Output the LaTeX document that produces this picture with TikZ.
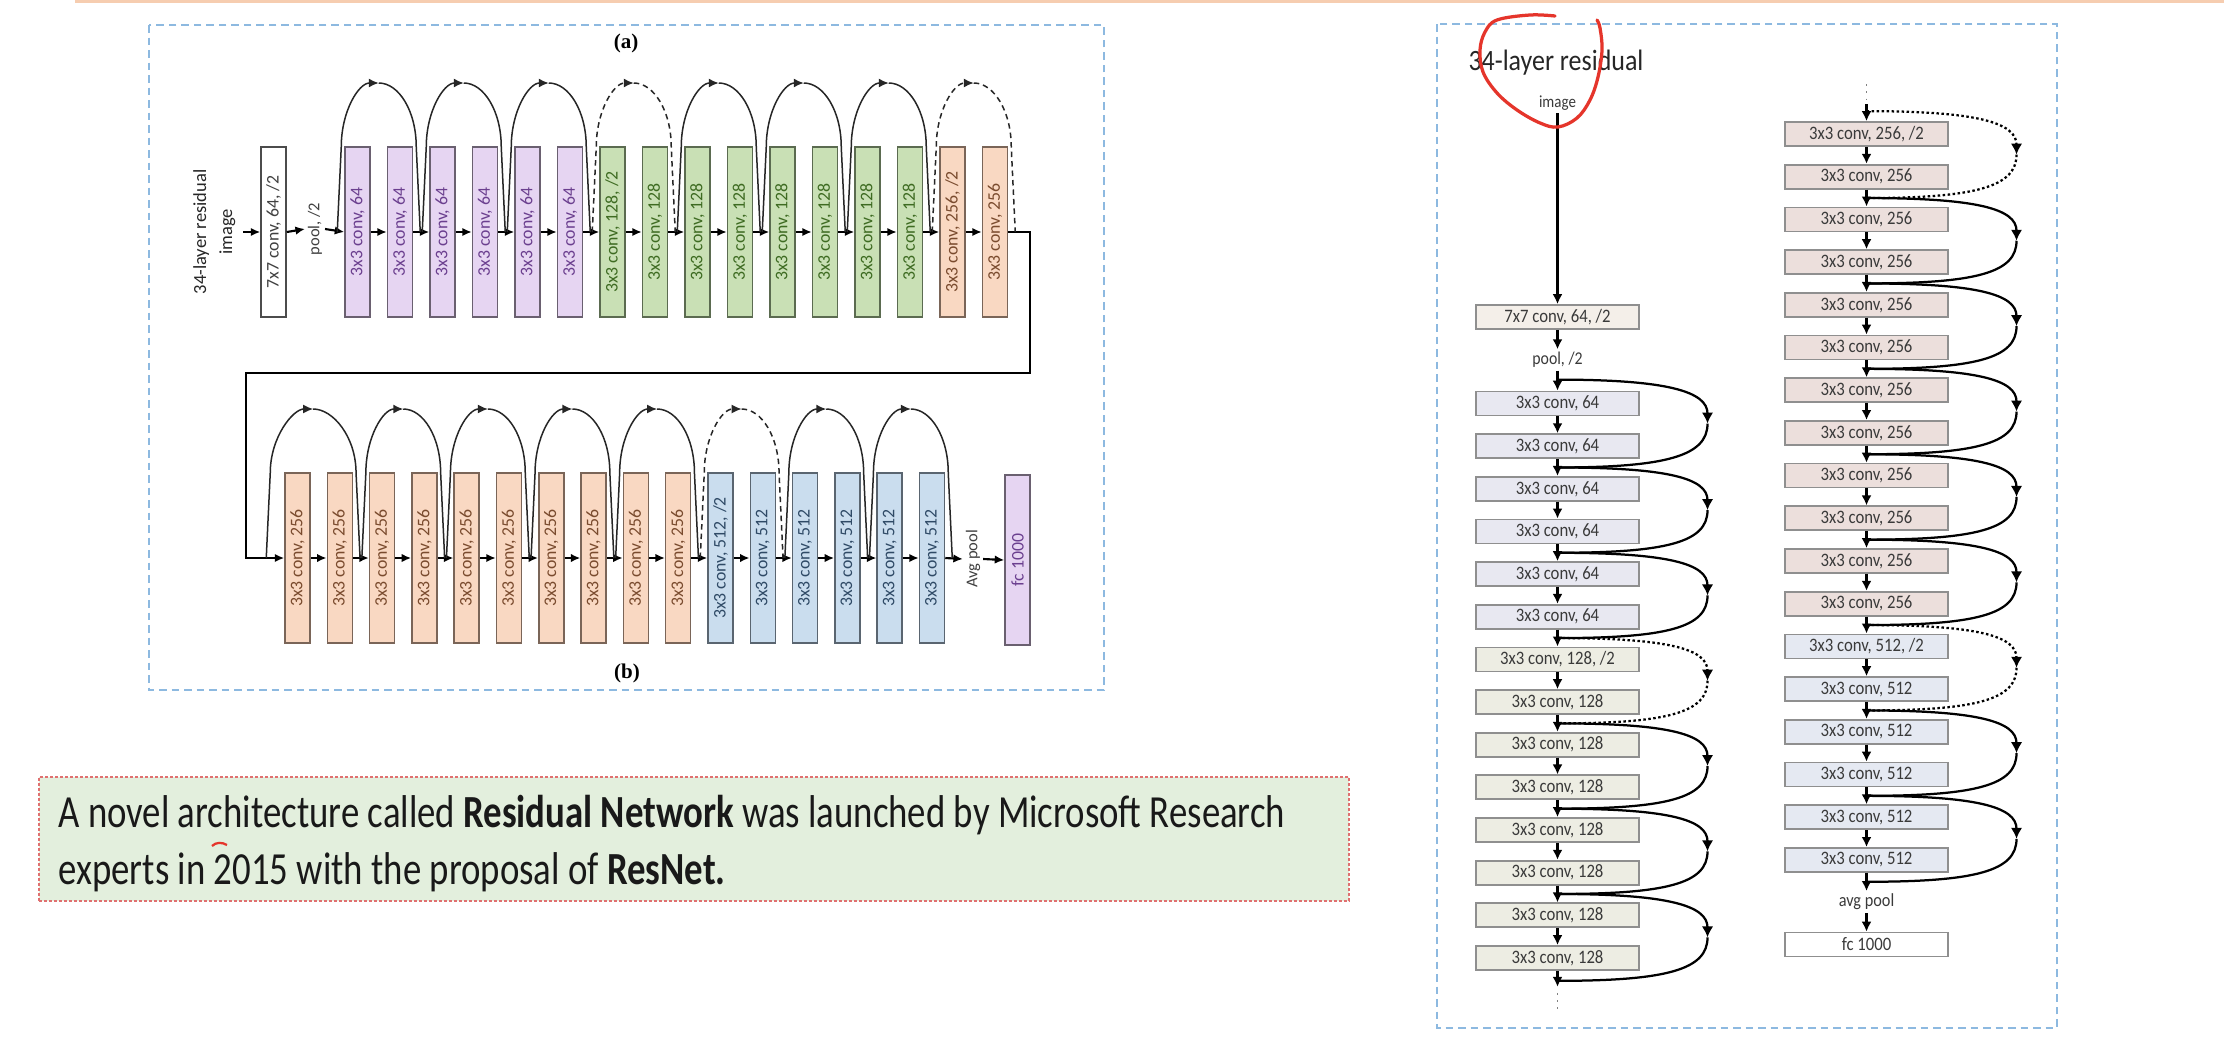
\documentclass[tikz,border=0pt]{standalone}
\usepackage{fontspec}
\setmainfont{Carlito}
\newfontfamily\nf[FakeStretch=0.88]{Carlito}
\newfontfamily\tf[FakeStretch=0.80]{Carlito}
\newfontfamily\serifab{Liberation Serif}
\usetikzlibrary{arrows.meta,calc}
\definecolor{frameblue}{HTML}{8DB9E0}
\definecolor{pfill}{HTML}{E6D5F2}\definecolor{ptext}{HTML}{6B3F8F}\definecolor{pdraw}{HTML}{6A6070}
\definecolor{gfill}{HTML}{C9E0B5}\definecolor{gtext}{HTML}{3E6B22}\definecolor{gdraw}{HTML}{5B6B50}
\definecolor{ofill}{HTML}{F9D8C2}\definecolor{otext}{HTML}{7A4B2E}\definecolor{odraw}{HTML}{7A6558}
\definecolor{bfill}{HTML}{CADDEE}\definecolor{btext}{HTML}{2F4A66}\definecolor{bdraw}{HTML}{5A6570}
\definecolor{rfseven}{HTML}{F4EFE9}\definecolor{rfsixfour}{HTML}{E8E8F1}\definecolor{rfonetwo}{HTML}{EDEDE3}
\definecolor{rftwofive}{HTML}{ECDFDC}\definecolor{rffive}{HTML}{E5E9F2}
\definecolor{rdraw}{HTML}{8F8F8F}\definecolor{rtext}{HTML}{3A3A3A}
\definecolor{tbfill}{HTML}{E3EFDD}\definecolor{tbdraw}{HTML}{E07070}
\definecolor{annred}{HTML}{E5352B}\definecolor{topline}{HTML}{F6CDB0}
\newcommand\mkvbox[5]{\node[vbox,#4] (#1) at (#2,#3) {\rotatebox{90}{#5}};}
\newcommand\toparc[3][]{%
  \coordinate (pk-#2) at ($(#2)!0.5!(#3)+(0,-149)$);
  \draw[skipA,#1,-{Latex[length=4pt,width=3.6pt]}] (#2) -- ++(4,-85) .. controls +(0,-36) and +(-20,0) .. (pk-#2);
  \draw[skipA,#1] (pk-#2) .. controls +(20,0) and +(0,-36) .. ($(#3)+(-4,-85)$) -- (#3);}
\newcommand\sidearc[3][]{%
  \coordinate (md-#2) at ($(#2)!0.5!(#3)+(150,0)$);
  \draw[skipB,#1,-{Latex[length=4.4pt,width=4.6pt]}] (#2) .. controls +(110,0) and +(0,-32) .. (md-#2);
  \draw[skipB,#1] (md-#2) .. controls +(0,32) and +(110,0) .. (#3);}
\begin{document}
\begin{tikzpicture}[x=0.4pt,y=-0.4pt,
  vbox/.style={draw, line width=0.6pt, minimum width=10pt, minimum height=68pt, inner sep=0pt, font=\fontsize{7.1}{8}\selectfont},
  pbox/.style={fill=pfill, draw=pdraw, text=ptext},
  gbox/.style={fill=gfill, draw=gdraw, text=gtext},
  obox/.style={fill=ofill, draw=odraw, text=otext},
  bbox/.style={fill=bfill, draw=bdraw, text=btext},
  wbox/.style={fill=white, draw=black!70, text=black!75},
  hbox/.style={draw=rdraw, line width=0.7pt, minimum width=65.2pt, minimum height=9.6pt, inner sep=0pt, text=rtext, font=\nf\fontsize{7.6}{8}\selectfont},
  arrA/.style={-{Latex[length=3.8pt,width=3.4pt]}, line width=0.85pt},
  arrB/.style={-{Latex[length=4pt,width=4pt]}, line width=1pt},
  skipA/.style={line width=0.6pt, black!85},
  skipB/.style={line width=0.9pt},
  dashA/.style={dash pattern=on 2.2pt off 1.6pt},
  dotB/.style={dash pattern=on 1pt off 1pt},
  frame/.style={draw=frameblue, line width=0.6pt, dash pattern=on 3pt off 2pt},
  lbl/.style={inner sep=1pt, text=black!75},
]
\useasboundingbox (0,0) rectangle (2224,1040);
\fill[white] (0,0) rectangle (2224,1040);
\draw[topline, line width=1.2pt] (75,1.5) -- (2224,1.5);
% ---------------- left panel ----------------
\draw[frame] (149,25) rectangle (1104,690);
\node[font=\serifab\bfseries\fontsize{8.4}{9}\selectfont] (la) at (626,43) {(a)};
\node[font=\serifab\bfseries\fontsize{8.4}{9}\selectfont] (lb) at (627,673) {(b)};
\node[lbl, text=black!85, font=\fontsize{7.4}{10.4}\selectfont] (inA) at (214,232) {\rotatebox{90}{\begin{tabular}{@{}c@{}}34-layer residual\\image\end{tabular}}};
\mkvbox{c7}{273.5}{232}{wbox}{7x7 conv, 64, /2}
\node[lbl, font=\fontsize{6.6}{8}\selectfont] (pool1) at (315,229) {\rotatebox{90}{pool, /2}};
\mkvbox{r1b0}{357.5}{232}{pbox}{3x3 conv, 64}
\mkvbox{r1b1}{400}{232}{pbox}{3x3 conv, 64}
\mkvbox{r1b2}{442.5}{232}{pbox}{3x3 conv, 64}
\mkvbox{r1b3}{485}{232}{pbox}{3x3 conv, 64}
\mkvbox{r1b4}{527.5}{232}{pbox}{3x3 conv, 64}
\mkvbox{r1b5}{570}{232}{pbox}{3x3 conv, 64}
\mkvbox{r1b6}{612.5}{232}{gbox}{3x3 conv, 128, /2}
\mkvbox{r1b7}{655}{232}{gbox}{3x3 conv, 128}
\mkvbox{r1b8}{697.5}{232}{gbox}{3x3 conv, 128}
\mkvbox{r1b9}{740}{232}{gbox}{3x3 conv, 128}
\mkvbox{r1b10}{782.5}{232}{gbox}{3x3 conv, 128}
\mkvbox{r1b11}{825}{232}{gbox}{3x3 conv, 128}
\mkvbox{r1b12}{867.5}{232}{gbox}{3x3 conv, 128}
\mkvbox{r1b13}{910}{232}{gbox}{3x3 conv, 128}
\mkvbox{r1b14}{952.5}{232}{obox}{3x3 conv, 256, /2}
\mkvbox{r1b15}{995}{232}{obox}{3x3 conv, 256}
\draw[arrA] (inA.east) -- (c7.west);
\draw[arrA] (c7.east) -- (pool1.west);
\draw[arrA] (pool1.east) -- (r1b0.west);
\foreach \k in {0,...,14} {\pgfmathtruncatemacro\n{\k+1}\draw[arrA] (r1b\k.east) -- (r1b\n.west);}
% row 2
\mkvbox{r2b0}{297.5}{558}{obox}{3x3 conv, 256}
\mkvbox{r2b1}{339.8}{558}{obox}{3x3 conv, 256}
\mkvbox{r2b2}{382.1}{558}{obox}{3x3 conv, 256}
\mkvbox{r2b3}{424.4}{558}{obox}{3x3 conv, 256}
\mkvbox{r2b4}{466.7}{558}{obox}{3x3 conv, 256}
\mkvbox{r2b5}{509}{558}{obox}{3x3 conv, 256}
\mkvbox{r2b6}{551.3}{558}{obox}{3x3 conv, 256}
\mkvbox{r2b7}{593.6}{558}{obox}{3x3 conv, 256}
\mkvbox{r2b8}{635.9}{558}{obox}{3x3 conv, 256}
\mkvbox{r2b9}{678.2}{558}{obox}{3x3 conv, 256}
\mkvbox{r2b10}{720.5}{558}{bbox}{3x3 conv, 512, /2}
\mkvbox{r2b11}{762.8}{558}{bbox}{3x3 conv, 512}
\mkvbox{r2b12}{805.1}{558}{bbox}{3x3 conv, 512}
\mkvbox{r2b13}{847.4}{558}{bbox}{3x3 conv, 512}
\mkvbox{r2b14}{889.7}{558}{bbox}{3x3 conv, 512}
\mkvbox{r2b15}{932}{558}{bbox}{3x3 conv, 512}
\node[lbl, font=\fontsize{6.6}{8}\selectfont] (avg1) at (973,559) {\rotatebox{90}{Avg pool}};
\mkvbox{fc1}{1017.5}{560}{pbox}{fc 1000}
\foreach \k in {0,...,14} {\pgfmathtruncatemacro\n{\k+1}\draw[arrA] (r2b\k.east) -- (r2b\n.west);}
\draw[arrA] (r2b15.east) -- (avg1.west);
\draw[arrA] (avg1.east) -- (fc1.west);
\coordinate (cA) at (1030,373);
\coordinate (cB) at (246,373);
\draw[line width=1.1pt, -{Latex[length=3.8pt,width=3.4pt]}] (r1b15.east) -| (cA) -- (cB) |- (r2b0.west);
% top arcs
\foreach \k in {0,...,7} {\pgfmathtruncatemacro\a{2*\k}\pgfmathtruncatemacro\b{2*\k+1}
  \coordinate (u\k s) at ($(r1b\a.west)+(-7,0)$);
  \coordinate (u\k e) at ($(r1b\b.east)+(7,0)$);
  \coordinate (w\k s) at ($(r2b\a.west)+(-7,0)$);
  \coordinate (w\k e) at ($(r2b\b.east)+(7,0)$);}
\coordinate (w0s) at ($(r2b0.west)+(-18,0)$);
\toparc{u0s}{u0e}\toparc{u1s}{u1e}\toparc{u2s}{u2e}\toparc[dashA]{u3s}{u3e}
\toparc{u4s}{u4e}\toparc{u5s}{u5e}\toparc{u6s}{u6e}\toparc[dashA]{u7s}{u7e}
\toparc{w0s}{w0e}\toparc{w1s}{w1e}\toparc{w2s}{w2e}\toparc{w3s}{w3e}
\toparc{w4s}{w4e}\toparc[dashA]{w5s}{w5e}\toparc{w6s}{w6e}\toparc{w7s}{w7e}
% ---------------- text box ----------------
\node[draw=tbdraw, fill=tbfill, line width=0.6pt, dash pattern=on 1.2pt off 0.8pt, minimum width=524pt, minimum height=49.6pt, anchor=north west, inner sep=0pt] (tbox) at (38,776) {};
\node[anchor=base west, inner sep=0pt, font=\tf\fontsize{18.4}{22}\selectfont, text=black!90] (t1) at (58,827) {A novel architecture called \textbf{Residual Network} was launched by Microsoft Research};
\node[anchor=base west, inner sep=0pt, font=\tf\fontsize{18.4}{22}\selectfont, text=black!90] (t2) at (58,884) {experts in 2015 with the proposal of \textbf{ResNet.}};
\draw[annred, line width=0.9pt] (212,846) .. controls (216,842) and (222,842) .. (227,845);
% ---------------- right panel ----------------
\draw[frame] (1437,24) rectangle (2057,1028);
\node[anchor=west, inner sep=0pt, font=\nf\fontsize{11.8}{13}\selectfont, text=black!85] (title) at (1468,63) {34-layer residual};
\node[inner sep=1pt, font=\nf\fontsize{6.8}{8}\selectfont, text=rtext] (img) at (1557.5,103) {image};
\node[hbox, fill=rfseven] (c7R) at (1557.5,317) {7x7 conv, 64, /2};
\node[inner sep=1pt, font=\nf\fontsize{7.2}{8}\selectfont, text=rtext] (pool2) at (1557.5,360) {pool, /2};
\draw[arrB] (img.south) -- (c7R.north);
\draw[arrB] (c7R.south) -- (pool2.north);
\foreach \k in {0,...,5} {\node[hbox, fill=rfsixfour] (L\k) at (1557.5,{403.5+42.65*\k}) {3x3 conv, 64};}
\node[hbox, fill=rfonetwo] (L6) at (1557.5,{403.5+42.65*6}) {3x3 conv, 128, /2};
\foreach \k in {7,...,13} {\node[hbox, fill=rfonetwo] (L\k) at (1557.5,{403.5+42.65*\k}) {3x3 conv, 128};}
\draw[arrB] (pool2.south) -- (L0.north);
\foreach \k in {0,...,12} {\pgfmathtruncatemacro\n{\k+1}\draw[arrB] (L\k.south) -- (L\n.north);}
\coordinate (Lend) at ($(L13.south)+(0,16)$);
\draw[arrB] (L13.south) -- (Lend);
\draw[black!50, line width=0.7pt, dash pattern=on 0.7pt off 2.2pt] ($(Lend)+(0,6)$) -- ++(0,20);
\node[hbox, fill=rftwofive] (R0) at (1866.5,134) {3x3 conv, 256, /2};
\foreach \k in {1,...,11} {\node[hbox, fill=rftwofive] (R\k) at (1866.5,{134+42.7*\k}) {3x3 conv, 256};}
\node[hbox, fill=rffive] (R12) at (1866.5,{134+42.7*12}) {3x3 conv, 512, /2};
\foreach \k in {13,...,17} {\node[hbox, fill=rffive] (R\k) at (1866.5,{134+42.7*\k}) {3x3 conv, 512};}
\foreach \k in {0,...,16} {\pgfmathtruncatemacro\n{\k+1}\draw[arrB] (R\k.south) -- (R\n.north);}
\node[inner sep=1pt, font=\nf\fontsize{7.4}{8}\selectfont, text=rtext] (avg2) at (1866.5,902) {avg pool};
\node[hbox, fill=white] (fc2) at (1866.5,944.5) {fc 1000};
\draw[arrB] (R17.south) -- (avg2.north);
\draw[arrB] (avg2.south) -- (fc2.north);
\coordinate (Rtop) at (1866.5,84);
\draw[black!50, line width=0.7pt, dash pattern=on 0.7pt off 2.2pt] (Rtop) -- ++(0,20);
\draw[arrB] ($(Rtop)+(0,20)$) -- (R0.north);
% junctions and side arcs
\coordinate (JL0) at ($(L0.north)+(0,-11)$);
\foreach \k in {1,...,6} {\pgfmathtruncatemacro\a{2*\k-1}\pgfmathtruncatemacro\b{2*\k}
  \coordinate (JL\k) at ($(L\a.south)!0.5!(L\b.north)$);}
\coordinate (JL7) at ($(L13.south)+(0,10)$);
\coordinate (JR0) at ($(R0.north)+(0,-10)$);
\foreach \k in {1,...,8} {\pgfmathtruncatemacro\a{2*\k-1}\pgfmathtruncatemacro\b{2*\k}
  \coordinate (JR\k) at ($(R\a.south)!0.5!(R\b.north)$);}
\coordinate (JR9) at ($(R17.south)+(0,9)$);
\sidearc{JL0}{JL1}\sidearc{JL1}{JL2}\sidearc{JL2}{JL3}\sidearc[dotB]{JL3}{JL4}
\sidearc{JL4}{JL5}\sidearc{JL5}{JL6}\sidearc{JL6}{JL7}
\sidearc[dotB]{JR0}{JR1}\sidearc{JR1}{JR2}\sidearc{JR2}{JR3}\sidearc{JR3}{JR4}
\sidearc{JR4}{JR5}\sidearc{JR5}{JR6}\sidearc[dotB]{JR6}{JR7}\sidearc{JR7}{JR8}\sidearc{JR8}{JR9}
% red annotation loop
\draw[annred, line width=1.3pt, line cap=round] plot[smooth, tension=0.6] coordinates {(1555,16) (1530,15) (1497,20) (1485,32) (1480,50) (1483,72) (1497,93) (1517,110) (1540,123) (1558,127) (1577,118) (1590,100) (1598,77) (1602,50) (1600,28) (1597,20)};
\end{tikzpicture}
\end{document}
